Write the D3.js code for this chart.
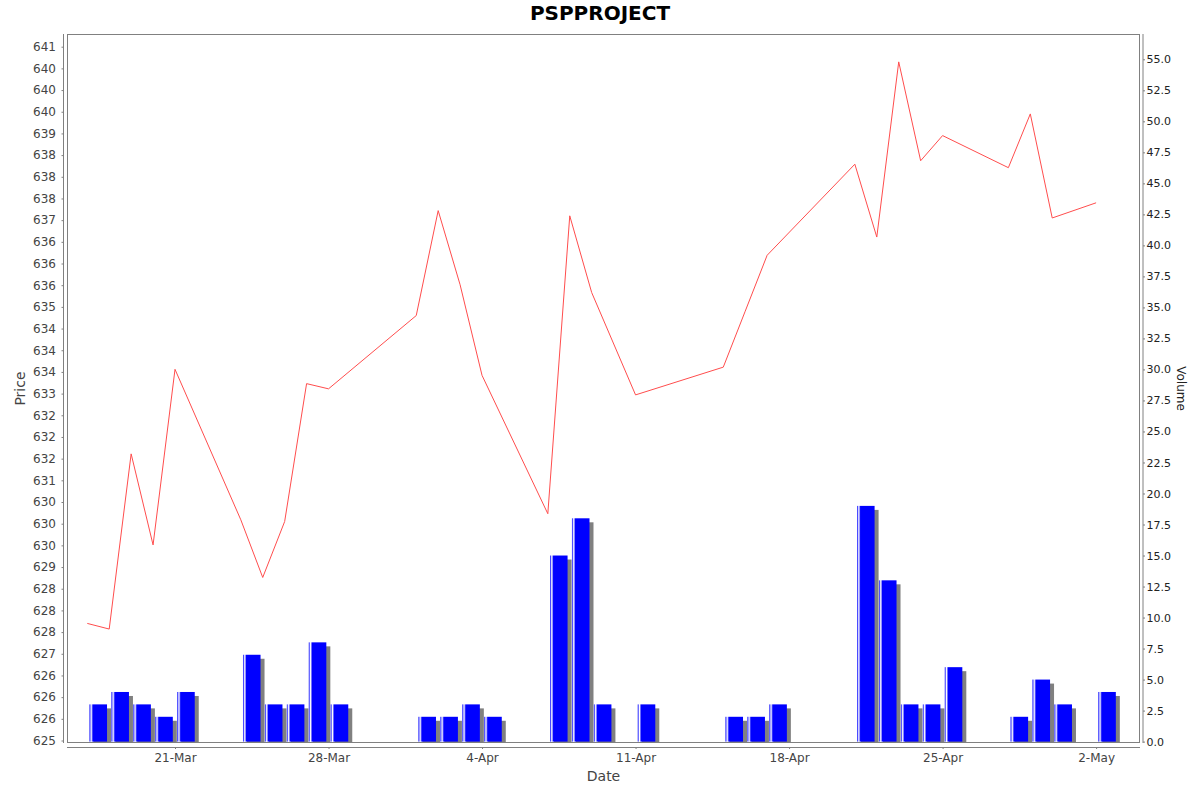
<!DOCTYPE html>
<html><head><meta charset="utf-8">
<script src="https://cdn.jsdelivr.net/npm/d3@7"></script>
<style>
body{margin:0;background:#fff}
svg{display:block}
text{font-family:"DejaVu Sans",sans-serif}
</style>
</head><body>
<svg id="chart" width="1200" height="792"></svg>
<script>
// ---- data ----
const dates = ["2025-03-17","2025-03-18","2025-03-19","2025-03-20","2025-03-21",
  "2025-03-24","2025-03-25","2025-03-26","2025-03-27","2025-03-28",
  "2025-04-01","2025-04-02","2025-04-03","2025-04-04",
  "2025-04-07","2025-04-08","2025-04-09","2025-04-11",
  "2025-04-15","2025-04-16","2025-04-17",
  "2025-04-21","2025-04-22","2025-04-23","2025-04-24","2025-04-25",
  "2025-04-28","2025-04-29","2025-04-30","2025-05-02"];
const prices = [627.70,627.57,631.61,629.51,633.56,
  630.09,628.76,630.05,633.23,633.11,
  634.80,637.22,635.51,633.42,
  630.23,637.10,635.33,632.97,
  633.61,634.90,636.19,
  638.29,636.61,640.65,638.37,638.95,
  638.21,639.45,637.05,637.40];
const volumes = [3,4,3,2,4,
  7,3,3,8,3,
  2,2,3,2,
  15,18,3,3,
  2,2,3,
  19,13,3,3,6,
  2,5,3,4];
const xTickDates = ["2025-03-21","2025-03-28","2025-04-04","2025-04-11","2025-04-18","2025-04-25","2025-05-02"];
const priceTicks = [625,625.5,626,626.5,627,627.5,628,628.5,629,629.5,630,630.5,631,631.5,632,632.5,
  633,633.5,634,634.5,635,635.5,636,636.5,637,637.5,638,638.5,639,639.5,640,640.5,641];
const volumeTicks = [0,2.5,5,7.5,10,12.5,15,17.5,20,22.5,25,27.5,30,32.5,35,37.5,40,42.5,45,47.5,50,52.5,55];
const titleText = "PSPPROJECT";

(function(){
// ---- layout ----
const W = 1200, H = 792;
const pL = 67.5, pR = 1139.5, pT = 34.5, pB = 742.5;
const parse = d3.utcParse("%Y-%m-%d");
const rows = dates.map((d,i)=>({date:parse(d), price:prices[i], volume:volumes[i]}));

const x = d3.scaleUtc()
  .domain([Date.UTC(2025,2,16,2,21), Date.UTC(2025,4,3,23,30)])
  .range([pL, pR]);
const yP = d3.scaleLinear().domain([625, 641]).range([740.5, 46.7]);
const yV = d3.scaleLinear().domain([0, 55]).range([741.6, 59.3]);

// half-even integer label formatter (as in reference)
function halfEven(v){
  const f = Math.floor(v), diff = v - f;
  if (Math.abs(diff - 0.5) < 1e-9) return String(f % 2 === 0 ? f : f + 1);
  return String(Math.round(v));
}

const svg = d3.select("#chart");
svg.append("rect").attr("width",W).attr("height",H).attr("fill","#fff");

const defs = svg.append("defs");
defs.append("clipPath").attr("id","plotClip").append("rect")
  .attr("x",pL).attr("y",pT).attr("width",pR-pL).attr("height",pB-pT);
const grad = defs.append("linearGradient").attr("id","barGrad")
  .attr("x1",0).attr("x2",1).attr("y1",0).attr("y2",0);
[[0,"#0000ff"],[0.1,"#ffffff"],[0.2,"#0000ff"],[1,"#0000ff"]].forEach(s=>
  grad.append("stop").attr("offset",s[0]).attr("stop-color",s[1]));

const plot = svg.append("g").attr("clip-path","url(#plotClip)");

// volume bars with shadow
const DAY = 86400000;
rows.forEach(r=>{
  const x0 = x(r.date), x1 = x(new Date(+r.date + DAY));
  const w = x1 - x0;
  const bx = x0 + 0.1*w, bw = 0.8*w;
  const by = yV(r.volume), bh = yV(0) - by;
  plot.append("rect").attr("x",bx+4).attr("y",by+4).attr("width",bw).attr("height",bh)
    .attr("fill","#808080");
  plot.append("rect").attr("x",bx).attr("y",by).attr("width",bw).attr("height",bh)
    .attr("fill","url(#barGrad)");
});

// price line
plot.append("path").datum(rows)
  .attr("d", d3.line().x(d=>x(d.date)).y(d=>yP(d.price)))
  .attr("fill","none").attr("stroke","#ff4d4d").attr("stroke-width",1);

// plot border
svg.append("rect").attr("x",pL).attr("y",pT).attr("width",pR-pL).attr("height",pB-pT)
  .attr("fill","none").attr("stroke","#808080").attr("stroke-width",1);

// ---- axes ----
const axisColor = "#808080";
const gL = svg.append("g").attr("transform","translate(63.5,0)")
  .call(d3.axisLeft(yP).tickValues(priceTicks).tickFormat(halfEven).tickSize(2).tickPadding(5.5));
gL.select(".domain").remove();
gL.append("line").attr("x1",0).attr("x2",0).attr("y1",pT-0.5).attr("y2",pB+0.5).attr("stroke",axisColor);
gL.selectAll(".tick line").attr("stroke",axisColor);
gL.selectAll(".tick text").attr("font-size",12).attr("fill","#444").attr("font-family","DejaVu Sans");

const gR = svg.append("g").attr("transform","translate(1143,0)")
  .call(d3.axisRight(yV).tickValues(volumeTicks).tickFormat(d3.format(".1f")).tickSize(2).tickPadding(1.5));
gR.select(".domain").remove();
gR.append("line").attr("x1",0).attr("x2",0).attr("y1",pT-0.5).attr("y2",pB+0.5).attr("stroke",axisColor);
gR.selectAll(".tick line").attr("stroke",axisColor);
gR.selectAll(".tick text").attr("font-size",11).attr("fill","#222").attr("font-family","DejaVu Sans");

const gB = svg.append("g").attr("transform","translate(0,747)")
  .call(d3.axisBottom(x).tickValues(xTickDates.map(parse)).tickFormat(d3.utcFormat("%-d-%b")).tickSize(2).tickPadding(4));
gB.select(".domain").remove();
gB.append("line").attr("x1",pL-0.5).attr("x2",pR+0.5).attr("y1",0.5).attr("y2",0.5).attr("stroke",axisColor);
gB.selectAll(".tick line").attr("stroke",axisColor);
gB.selectAll(".tick text").attr("font-size",12).attr("fill","#444").attr("font-family","DejaVu Sans");

// axis labels
const midY = (pT + pB) / 2;
svg.append("text").attr("transform",`translate(25,${midY}) rotate(-90)`)
  .attr("text-anchor","middle").attr("font-size",14).attr("fill","#444").text("Price");
svg.append("text").attr("transform",`translate(1177,${midY}) rotate(90)`)
  .attr("text-anchor","middle").attr("font-size",12).attr("fill","#222").text("Volume");
svg.append("text").attr("x",(pL+pR)/2).attr("y",781)
  .attr("text-anchor","middle").attr("font-size",14).attr("fill","#444").text("Date");

svg.append("text").attr("x",600).attr("y",20).attr("text-anchor","middle")
  .attr("font-size",20).attr("font-weight","bold").attr("fill","#000").text(titleText);
})();
</script>
</body></html>
